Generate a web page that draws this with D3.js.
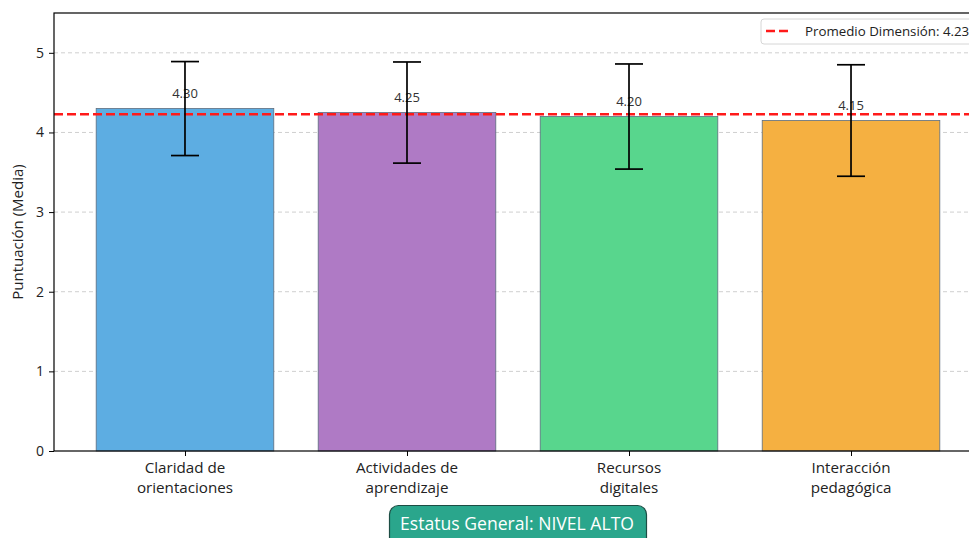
<!DOCTYPE html>
<html><head><meta charset="utf-8">
<script src="https://cdn.jsdelivr.net/npm/d3@7"></script>
<style>body{margin:0;background:#fff;overflow:hidden}svg{display:block;font-family:"Open Sans",Roboto,sans-serif}</style>
</head><body>
<script>
const categories = [["Claridad de","orientaciones"],["Actividades de","aprendizaje"],["Recursos","digitales"],["Interacción","pedagógica"]];
const means = [4.30, 4.25, 4.20, 4.15];
const stds = [0.59, 0.635, 0.66, 0.70];
const colors = ["#5DADE2","#AF7AC5","#58D68D","#F5B041"];
const yTicks = [0,1,2,3,4,5];
const dimensionMean = 4.23;
const legendLabel = "Promedio Dimensión: 4.23";
const statusLabel = "Estatus General: NIVEL ALTO";

const W = 969, H = 538;
const svg = d3.select("body").append("svg").attr("width", W).attr("height", H);
const m = {left: 54, top: 13, right: 982, bottom: 451};
const idx = d3.range(categories.length);
const x = d3.scaleLinear().domain([-0.59, 3.59]).range([m.left, m.right]);
const y = d3.scaleLinear().domain([0, 5.5]).range([m.bottom, m.top]);
const bw = x(0.8) - x(0);

// grid
svg.append("g").selectAll("line").data(yTicks.filter(d=>d>0)).join("line")
  .attr("x1", m.left).attr("x2", m.right).attr("y1", d=>y(d)).attr("y2", d=>y(d))
  .attr("stroke", "#cfcfcf").attr("stroke-width", 1).attr("stroke-dasharray", "4,3");

// bars
svg.append("g").selectAll("rect").data(idx).join("rect")
  .attr("x", i=>x(i)-bw/2).attr("width", bw)
  .attr("y", i=>y(means[i])).attr("height", i=>y(0)-y(means[i]))
  .attr("fill", i=>colors[i]).attr("stroke", "#5d6d7e").attr("stroke-width", 0.8);

// mean line
svg.append("line").attr("x1", m.left).attr("x2", m.right)
  .attr("y1", y(dimensionMean)).attr("y2", y(dimensionMean))
  .attr("stroke", "#ff1a1a").attr("stroke-width", 2.5).attr("stroke-dasharray", "9,4");

// value labels
svg.append("g").selectAll("text").data(idx).join("text")
  .attr("x", i=>x(i)).attr("y", i=>y(means[i]+0.1)-3)
  .attr("text-anchor", "middle").attr("font-size", 13).attr("fill", "#333")
  .text(i=>means[i].toFixed(2));

// error bars
const eb = svg.append("g").attr("stroke", "#000").attr("stroke-width", 1.7);
idx.forEach(i=>{
  const cx = x(i), t = y(means[i]+stds[i]), b = y(means[i]-stds[i]);
  eb.append("line").attr("x1", cx).attr("x2", cx).attr("y1", t).attr("y2", b);
  eb.append("line").attr("x1", cx-14).attr("x2", cx+14).attr("y1", t).attr("y2", t);
  eb.append("line").attr("x1", cx-14).attr("x2", cx+14).attr("y1", b).attr("y2", b);
});

// frame
svg.append("rect").attr("x", m.left).attr("y", m.top).attr("width", m.right-m.left).attr("height", m.bottom-m.top)
  .attr("fill", "none").attr("stroke", "#000").attr("stroke-width", 1.2);

// y axis
const ya = svg.append("g").attr("transform", `translate(${m.left},0)`)
  .call(d3.axisLeft(y).tickValues(yTicks).tickSize(5).tickPadding(5).tickFormat(d3.format("d")));
ya.select(".domain").remove();
ya.selectAll("text").attr("font-size", 14).attr("fill", "#222").attr("font-family", "'Open Sans', sans-serif");
ya.selectAll("line").attr("stroke", "#000");

// x axis
const xa = svg.append("g").attr("transform", `translate(0,${m.bottom})`)
  .call(d3.axisBottom(x).tickValues(idx).tickSize(5).tickFormat(""));
xa.select(".domain").remove();
xa.selectAll("line").attr("stroke", "#000");
const xl = svg.append("g");
idx.forEach(i=>{
  categories[i].forEach((line, k)=>xl.append("text").attr("x", x(i)).attr("y", m.bottom+22+k*20)
    .attr("text-anchor", "middle").attr("font-size", 15.2).attr("fill", "#222").text(line));
});

// y label
svg.append("text").attr("transform", `translate(23,${(m.top+m.bottom)/2}) rotate(-90)`)
  .attr("text-anchor", "middle").attr("font-size", 15).attr("fill", "#222").text("Puntuación (Media)");

// legend
const lg = svg.append("g");
lg.append("rect").attr("x", 761).attr("y", 19).attr("width", 230).attr("height", 25).attr("rx", 3)
  .attr("fill", "#fff").attr("stroke", "#d6d6d6").attr("stroke-width", 1);
lg.append("line").attr("x1", 766).attr("x2", 791).attr("y1", 31).attr("y2", 31)
  .attr("stroke", "#ff1a1a").attr("stroke-width", 2.5).attr("stroke-dasharray", "9,4");
lg.append("text").attr("x", 805).attr("y", 36).attr("font-size", 13.3).attr("fill", "#222").text(legendLabel);

// status box
const sb = svg.append("g");
sb.append("rect").attr("x", 389.5).attr("y", 505.5).attr("width", 257).attr("height", 50).attr("rx", 9)
  .attr("fill", "#2aa68c").attr("stroke", "#1d4d44").attr("stroke-width", 1.2);
sb.append("text").attr("x", 517).attr("y", 530).attr("text-anchor", "middle").attr("font-size", 17.6)
  .attr("fill", "#fff").text(statusLabel);
</script>
</body></html>
